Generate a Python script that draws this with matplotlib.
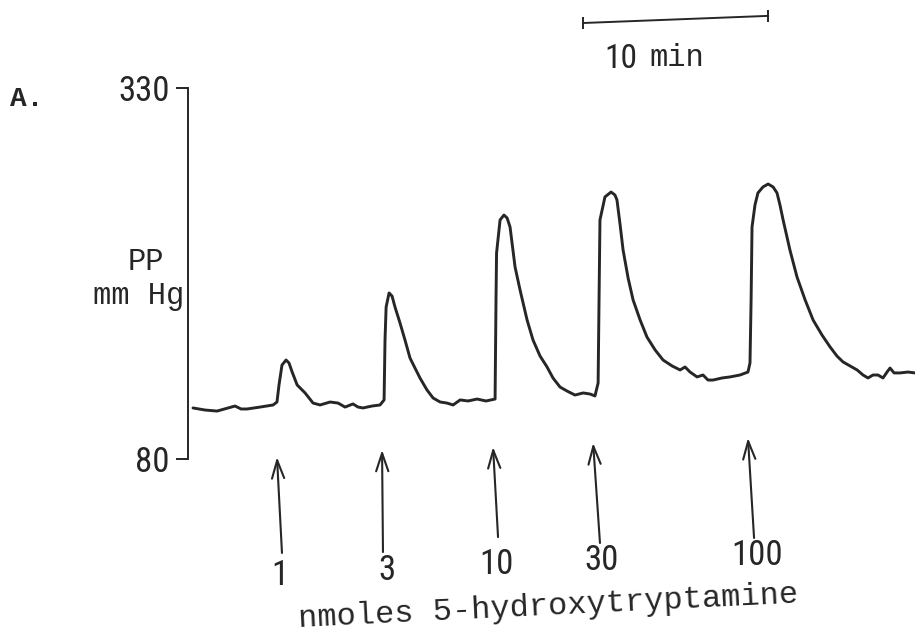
import matplotlib
matplotlib.use('Agg')
import matplotlib.pyplot as plt
from matplotlib import font_manager

# perfusion pressure trace: time (min) vs PP (mm Hg)
time_min = [0.05, 0.70, 1.35, 1.95, 2.32, 2.65, 2.97, 3.68, 4.38, 4.59,
            4.70, 4.86, 5.08, 5.24, 5.41, 5.68, 6.11, 6.54, 6.92, 7.46,
            7.89, 8.27, 8.70, 8.97, 9.24, 9.73, 10.16, 10.38, 10.43, 10.49,
            10.65, 10.81, 10.97, 11.24, 11.51, 11.78, 12.05, 12.32, 12.70, 13.03,
            13.41, 13.78, 14.11, 14.49, 14.92, 15.41, 15.89, 16.38, 16.43, 16.46,
            16.65, 16.86, 17.03, 17.19, 17.46, 17.73, 18.11, 18.43, 18.81, 19.19,
            19.51, 19.89, 20.27, 20.70, 21.14, 21.51, 21.78, 21.95, 22.00, 22.05,
            22.32, 22.65, 22.86, 22.97, 23.14, 23.30, 23.57, 23.84, 24.22, 24.59,
            25.03, 25.46, 25.95, 26.38, 26.65, 26.92, 27.30, 27.62, 27.89, 28.16,
            28.65, 29.08, 29.62, 30.05, 30.16, 30.22, 30.27, 30.43, 30.59, 30.86,
            31.14, 31.41, 31.62, 31.78, 31.95, 32.32, 32.70, 33.14, 33.57, 34.05,
            34.49, 34.86, 35.19, 35.57, 35.95, 36.27, 36.54, 36.81, 37.08, 37.35,
            37.57, 37.73, 37.95, 38.27, 38.70, 39.08]
pp_mmhg = [114.4, 113.0, 112.3, 114.4, 115.7, 113.7, 113.7, 115.0, 116.4, 118.4,
           129.9, 143.3, 146.7, 144.7, 138.6, 129.9, 124.5, 117.7, 116.4, 118.4,
           117.7, 115.0, 117.1, 115.0, 114.4, 115.7, 116.4, 119.8, 160.2, 182.4,
           191.9, 189.8, 182.4, 171.7, 160.2, 148.1, 141.3, 134.6, 126.5, 121.1,
           118.4, 117.7, 116.4, 119.8, 119.1, 120.4, 119.1, 120.4, 187.2, 218.8,
           241.1, 244.4, 242.4, 236.3, 209.4, 193.9, 173.7, 160.2, 149.4, 142.0,
           134.6, 128.5, 125.8, 123.1, 124.5, 123.8, 122.5, 131.2, 187.2, 241.1,
           256.6, 259.9, 257.9, 254.5, 237.7, 220.8, 202.0, 187.2, 173.7, 162.2,
           153.5, 146.7, 142.7, 140.0, 142.0, 138.6, 135.3, 136.6, 133.2, 133.2,
           134.6, 135.3, 136.6, 138.6, 144.7, 187.2, 236.3, 251.2, 259.3, 263.3,
           265.3, 263.3, 259.3, 251.2, 241.1, 220.8, 202.7, 187.2, 173.7, 163.6,
           155.5, 149.4, 145.4, 142.7, 140.0, 136.6, 134.6, 136.6, 136.6, 134.6,
           138.6, 141.3, 138.0, 138.0, 138.6, 138.0]

# 5-HT injections
doses = ['1', '3', '10', '30', '100']
dose_time = [4.59, 10.27, 16.27, 21.68, 30.05]

y_ticks = [80, 330]
bar_minutes = 10

fonts = font_manager.fontManager.ttflist


def narrow_font():
    # narrow sans for the numbers, whatever is installed
    names = {f.name for f in fonts}
    for n in ['Liberation Sans Narrow', 'DejaVu Sans Condensed',
              'Noto Sans Condensed', 'Roboto Condensed', 'Open Sans Condensed']:
        if n in names:
            return dict(family=n)
    for base in ['DejaVu Sans', 'Noto Sans', 'Roboto', 'Open Sans']:
        for f in fonts:
            if (f.name == base and 'condensed' in str(f.stretch)
                    and f.style == 'normal' and f.weight in (400, 'normal', 'regular')):
                return dict(family=base, stretch=f.stretch)
    for n in ['Liberation Sans', 'Roboto']:
        if n in names:
            return dict(family=n)
    return dict(family='DejaVu Sans')


num_font = narrow_font()
mono = 'Liberation Mono' if any(f.name == 'Liberation Mono' for f in fonts) else 'DejaVu Sans Mono'
ink = '#262626'

W, H = 915, 639


def px(x, y):
    return x / W, 1 - y / H


fig = plt.figure(figsize=(W / 100, H / 100), dpi=100)
fig.patch.set_facecolor('white')
ax = fig.add_axes([188 / W, 1 - 459 / H, 1 - 188 / W, (459 - 88) / H])
ax.set_facecolor('none')

ax.plot(time_min, pp_mmhg, color=ink, lw=2.1, solid_joinstyle='round',
        solid_capstyle='round')
ax.set_xlim(-0.22, 39.08)
ax.set_ylim(80, 330)

for s in ['top', 'right', 'bottom']:
    ax.spines[s].set_visible(False)
ax.spines['left'].set_color(ink)
ax.spines['left'].set_linewidth(1.4)
ax.set_xticks([])
ax.set_yticks(y_ticks)
ax.set_yticklabels([str(v) for v in y_ticks])
ax.tick_params(axis='y', direction='out', length=9, width=1.4, pad=4,
               color=ink, labelcolor=ink, labelsize=25)
for lab in ax.get_yticklabels():
    lab.set_fontfamily(num_font['family'])
    if 'stretch' in num_font:
        lab.set_fontstretch(num_font['stretch'])

# injection arrows below the trace (slight tilt from the chart recorder)
tip_y = [81.3, 86.1, 88.1, 90.8, 94.2]
tail_dx = [0.27, 0.05, 0.27, 0.37, 0.33]
tail_y = [16.7, 17.3, 27.4, 23.4, 26.8]
lab_dx = [0.17, 0.27, 0.16, 0.43, 0.49]
lab_y = [1.8, 5.2, 8.6, 11.9, 15.3]
for i, d in enumerate(doses):
    t = dose_time[i]
    ax.annotate('', xy=(t, tip_y[i]), xytext=(t + tail_dx[i], tail_y[i]),
                annotation_clip=False,
                arrowprops=dict(arrowstyle='->, head_length=0.65, head_width=0.22',
                                mutation_scale=20, color=ink, lw=1.5,
                                shrinkA=0, shrinkB=0))
    ax.text(t + lab_dx[i], lab_y[i], d, ha='center', va='center',
            fontsize=25, color=ink, clip_on=False, **num_font)

# 10 min time bar
bar_t0 = 21.14
ax.plot([bar_t0, bar_t0 + bar_minutes], [373.8, 378.6], color=ink, lw=1.4,
        marker='|', ms=8, mew=1.4, clip_on=False)
fig.text(*px(621, 59), str(bar_minutes), ha='center', va='center',
         fontsize=24, color=ink, **num_font)
fig.text(*px(649, 66), 'min', ha='left', va='baseline',
         fontsize=22, family=mono, color=ink)

fig.text(*px(10, 106), 'A.', ha='left', va='baseline',
         fontsize=20, family=mono, weight='bold', color=ink)
fig.text(*px(146, 270), 'PP', ha='center', va='baseline',
         fontsize=22, family=mono, color=ink)
fig.text(*px(184, 304), 'mm Hg', ha='right', va='baseline',
         fontsize=22, family=mono, color=ink)

fig.text(*px(299, 627), 'nmoles 5-hydroxytryptamine', ha='left',
         va='baseline', rotation=2.8, rotation_mode='anchor',
         fontsize=23, family=mono, color=ink)

fig.savefig('out.png', dpi=100, facecolor='white')
